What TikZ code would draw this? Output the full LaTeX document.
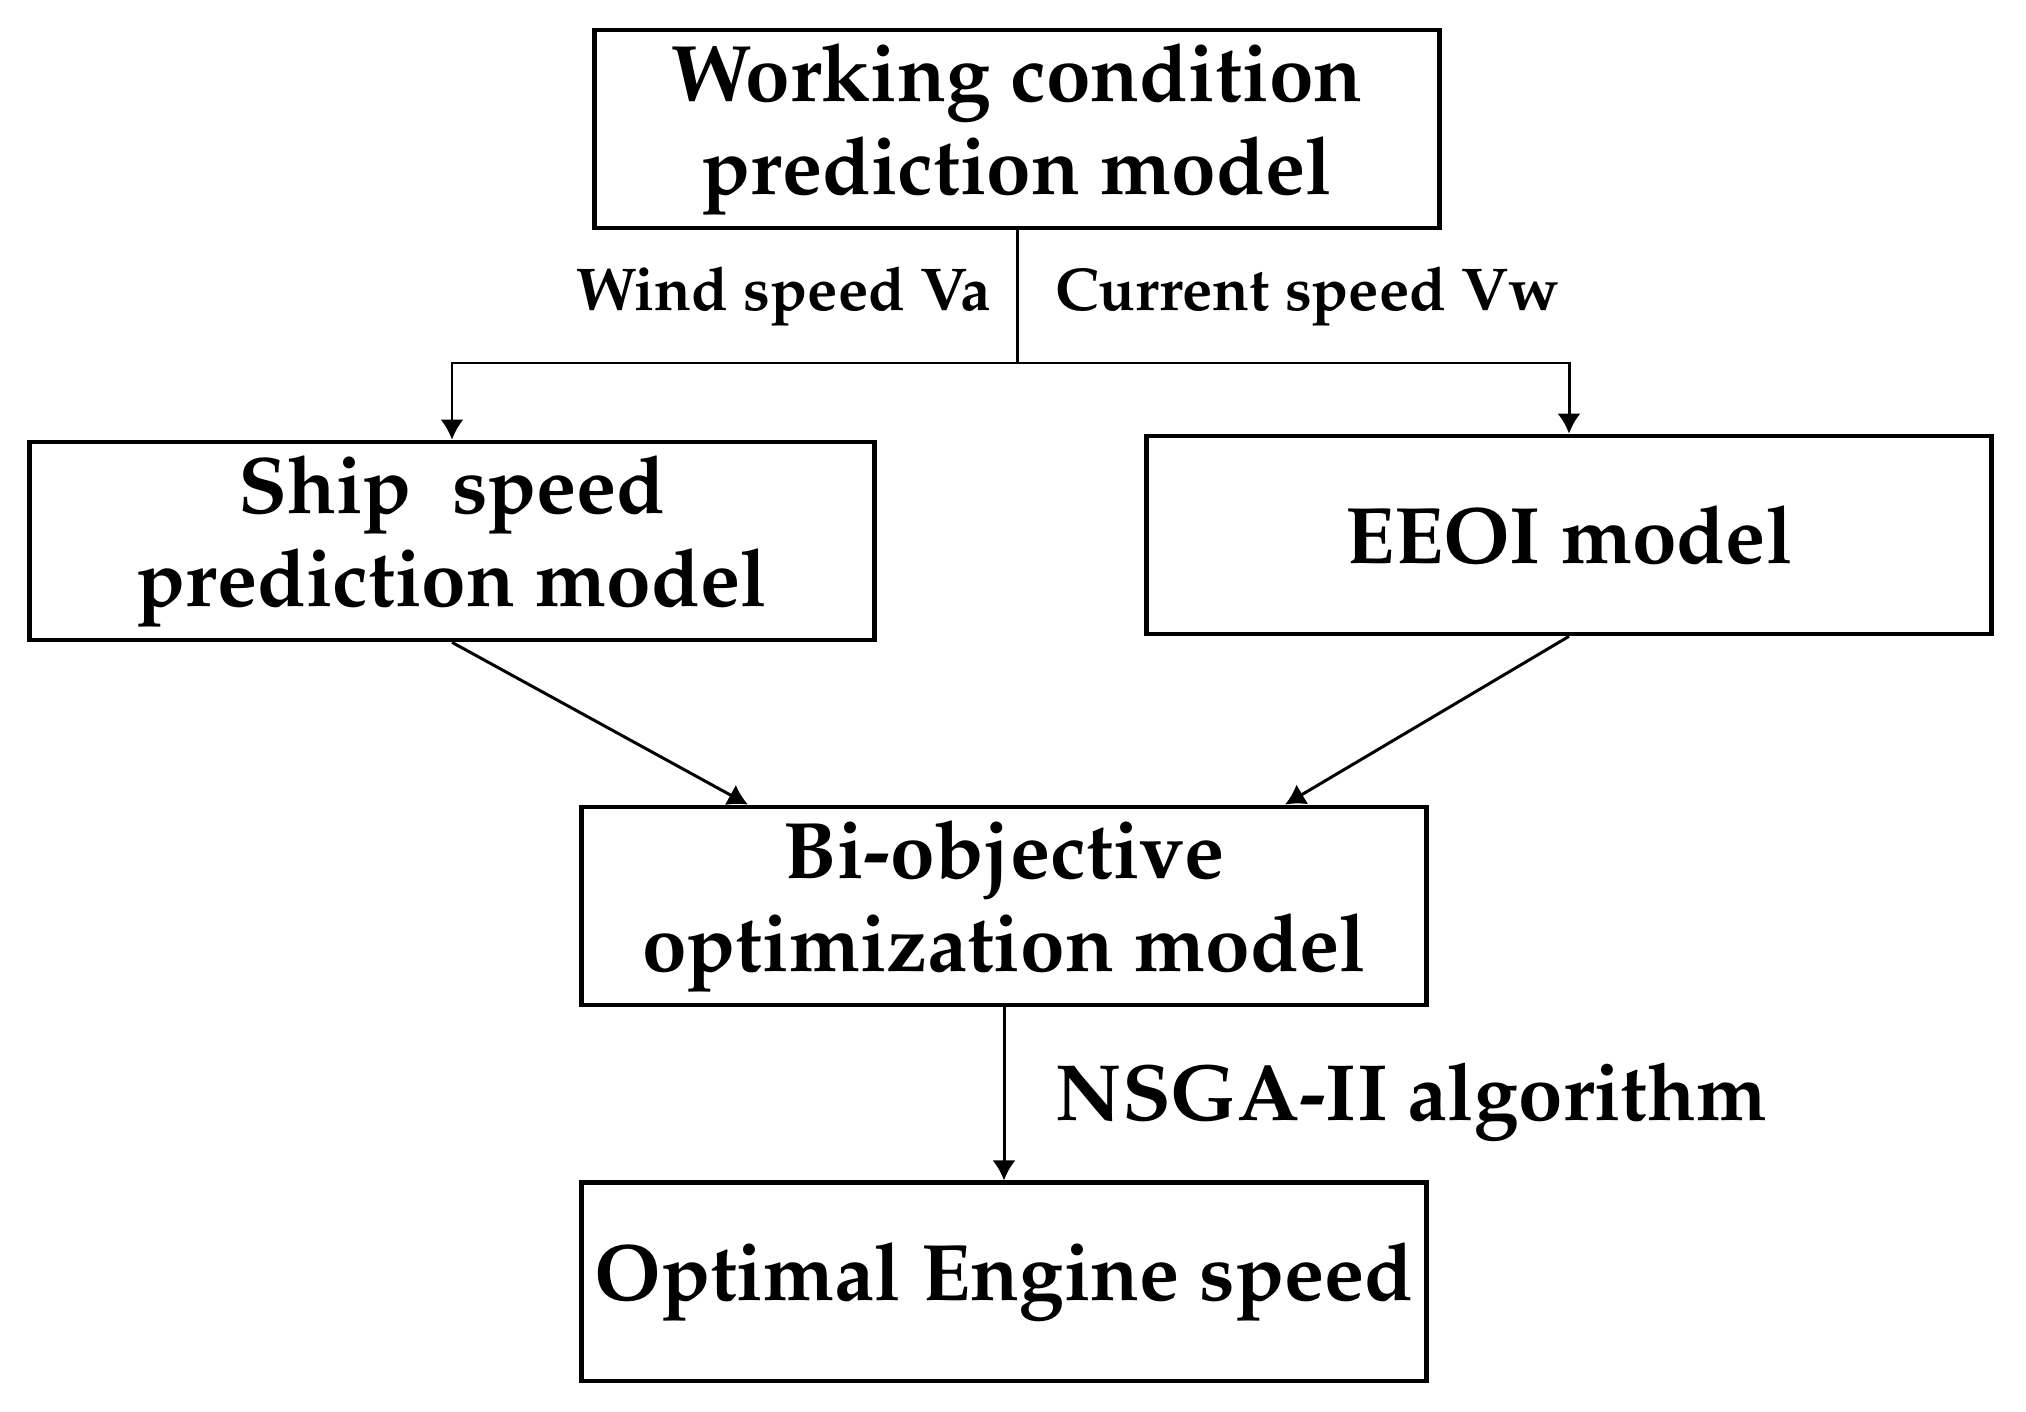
\documentclass[tikz,border=0pt]{standalone}
\usepackage[T1]{fontenc}
\renewcommand{\rmdefault}{ppl}
\usepackage{tikz}
\usetikzlibrary{arrows.meta, positioning, calc}
\tikzset{
>={Latex[length=2mm,width=2.3mm]},
black,
box/.style={%
    rectangle,
    draw=black,
    line width=1.3pt,
    minimum width=8.45cm,
    minimum height=1.98cm,
    inner sep=0pt,
    align=center,
    % Font
    font=\bfseries\fontsize{22.8}{26.5}\selectfont
},
lbl/.style={%
    inner sep=0pt, font=\bfseries\fontsize{17.2}{20}\selectfont
},
biglbl/.style={%
    lbl, font=\bfseries\fontsize{22.7}{26.5}\selectfont
},
link/.style={line width=0.85pt},
}

\begin{document}
\begin{tikzpicture}[x=0.01cm, y=-0.01cm]
	\useasboundingbox (0,0) rectangle (2026,1412);
	\node[box] (wc) at (1017,129) {Working condition\\prediction model};
	\node[box] (ship) at (452,541) {Ship\ \ speed\\prediction model};
	\node[box] (eeoi) at (1569,535) {EEOI model};
	\node[box] (opt) at (1004,906) {Bi-objective\\optimization model};
	\node[box, below=1.73cm of opt] (engine) {Optimal Engine speed};
	\coordinate (j) at (wc.south |- 0,363);

	\draw[link] (wc) -- node[lbl, left, xshift=-0.245cm] {Wind speed Va}
		node[lbl, right, xshift=0.365cm] {Current speed Vw} (j);
	\draw[link, ->] (j) -| (ship);
	\draw[link, ->] (j) -| (eeoi);
	\draw[link, ->] (ship.south) -- ([xshift=1.69cm]opt.north west);
	\draw[link, ->] (eeoi.south) -- ([xshift=-1.44cm]opt.north east);
	\draw[link, ->] (opt) -- node[biglbl, right, xshift=0.5cm, yshift=-0.08cm] {NSGA-II algorithm} (engine);
\end{tikzpicture}
\end{document}
